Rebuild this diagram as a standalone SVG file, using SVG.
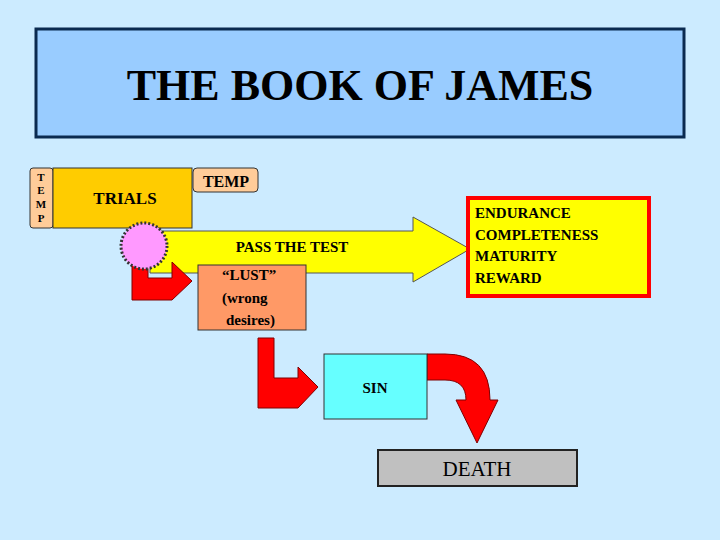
<svg xmlns="http://www.w3.org/2000/svg" width="720" height="540" viewBox="0 0 720 540">
<style>
.t{font-family:'Liberation Serif','Times New Roman','DejaVu Serif',serif;font-weight:bold;fill:#000}
.arr{fill:#FF0000;stroke:#800000;stroke-width:1}
</style>
<rect width="720" height="540" fill="#CCEBFF"/>
<g id="title"><rect x="36" y="29" width="648" height="108" fill="#99CCFF" stroke="#0A2A50" stroke-width="3"/>
<text class="t" x="360" y="100" font-size="44" text-anchor="middle">THE BOOK OF JAMES</text></g>
<g id="connectors">
<polygon points="150,231 413,231 413,217 470,249 413,282 413,273 150,273" fill="#FFFF00" stroke="#555" stroke-width="1"/>
<text class="t" x="292" y="252" font-size="15" text-anchor="middle">PASS THE TEST</text>
<polygon class="arr" points="132,264 148,264 148,278 172,278 172,262 192,281 172,300 132,300"/>
<polygon class="arr" points="258,338 274,338 274,378 298,378 298,367 318,387 298,408 258,408"/>
<path class="arr" d="M427,354 L445,354 Q490,354 490,400 L498,400 L477,443 L456,400 L466,400 Q466,380 445,380 L427,380 Z"/>
</g>
<g id="temp-v"><rect x="30" y="168" width="23" height="60" rx="3" fill="#FFCC99" stroke="#333"/>
<text class="t" font-size="11" text-anchor="middle"><tspan x="41" y="181">T</tspan><tspan x="41" y="194">E</tspan><tspan x="41" y="208">M</tspan><tspan x="41" y="222">P</tspan></text></g>
<g id="trials"><rect x="53" y="168" width="139" height="60" fill="#FFCC00" stroke="#333"/>
<text class="t" x="125" y="204" font-size="17" text-anchor="middle">TRIALS</text></g>
<g id="temp-tab"><rect x="193" y="168" width="65" height="24" rx="4" fill="#FFCC99" stroke="#333"/>
<text class="t" x="226" y="187" font-size="16" text-anchor="middle">TEMP</text></g>
<g id="star"><circle cx="144" cy="246" r="23" fill="#FF99FF" stroke="#333" stroke-width="3" stroke-dasharray="2 2"/><circle cx="144" cy="246" r="19" fill="#FF99FF"/></g>
<g id="lust"><rect x="198" y="265" width="108" height="65" fill="#FF9966" stroke="#333"/>
<text class="t" font-size="15"><tspan x="222" y="280">“LUST”</tspan><tspan x="222" y="303">(wrong</tspan><tspan x="226" y="325">desires)</tspan></text></g>
<g id="sin"><rect x="324" y="354" width="103" height="65" fill="#66FFFF" stroke="#333"/>
<text class="t" x="375" y="393" font-size="15" text-anchor="middle">SIN</text></g>
<g id="death"><rect x="378" y="450" width="199" height="36" fill="#C0C0C0" stroke="#222" stroke-width="2"/>
<text class="t" x="477" y="476" font-size="21" text-anchor="middle" style="font-weight:normal">DEATH</text></g>
<g id="endurance"><rect x="468" y="198" width="181" height="98" fill="#FFFF00" stroke="#FF0000" stroke-width="4"/>
<text class="t" font-size="15"><tspan x="475" y="218">ENDURANCE</tspan><tspan x="475" y="240">COMPLETENESS</tspan><tspan x="475" y="261">MATURITY</tspan><tspan x="475" y="283">REWARD</tspan></text></g>
</svg>
